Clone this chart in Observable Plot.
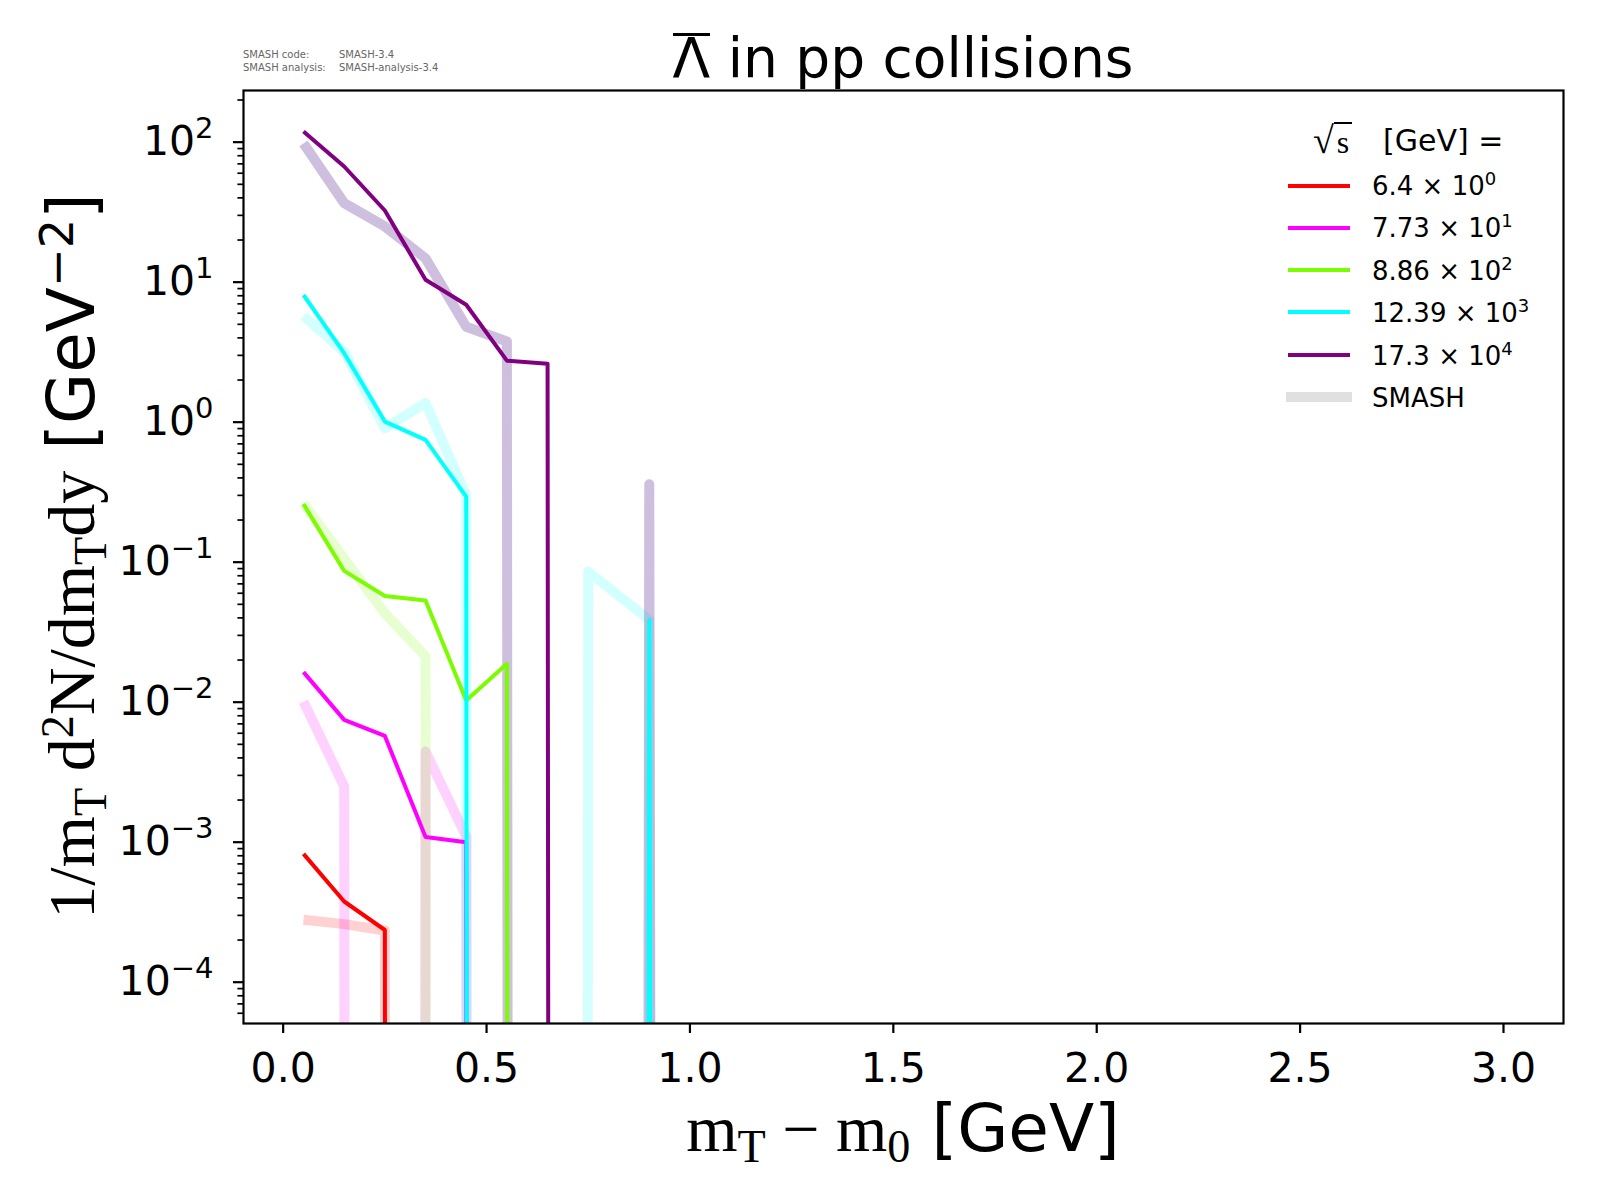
<!DOCTYPE html>
<html>
<head>
<meta charset="utf-8">
<script src="https://cdn.jsdelivr.net/npm/d3@7"></script>
<script src="https://cdn.jsdelivr.net/npm/@observablehq/plot@0.6"></script>
<style>
  html, body { margin: 0; padding: 0; background: white; }
  #wrap { position: relative; width: 1600px; height: 1200px; font-family: "DejaVu Sans", sans-serif; color: black; }
  .abs { position: absolute; white-space: nowrap; line-height: 1; }
  .serif { font-family: "Liberation Serif", serif; }
  .sw { position: absolute; left: 1288px; width: 62px; }
</style>
</head>
<body>
<div id="wrap"></div>
<script>
// ---- data ----
const mT = [0.05, 0.15, 0.25, 0.35, 0.45, 0.55, 0.65, 0.75, 0.9, 1.1];
const energyLabels = ["6.4", "7.73", "8.86", "12.39", "17.3"];
const offsetPowers = [0, 1, 2, 3, 4];
const seriesColors = ["#ff0000", "#ff00ff", "#7cfc00", "#00ffff", "#800080"];
const smashColors = ["#ff0000", "#ff00ff", "#7cfc00", "#00ffff", "#6a3d9a"];
const smashOpacity = [0.18, 0.18, 0.18, 0.17, 0.33];

// measured spectra (scaled by 10^i), 0 = empty bin
const expRed     = [8.25e-4, 3.77e-4, 2.36e-4, 0, 0, 0, 0, 0, 0, 0];
const expMagenta = [0.0164, 0.00748, 0.00574, 0.00109, 0.00100, 0, 0, 0, 0, 0];
const expGreen   = [0.26, 0.0867, 0.0574, 0.0532, 0.0103, 0.0188, 0, 0, 0, 0];
const expCyan    = [8.1, 3.11, 1.01, 0.748, 0.294, 0, 0, 0, 0.0387, 0];
const expPurple  = [119, 67, 32.5, 10.4, 6.9, 2.75, 2.61, 0, 0, 0];

// SMASH spectra
const smashRed     = [2.79e-4, 2.6e-4, 2.34e-4, 0, 0, 0, 0, 0, 0, 0];
const smashMagenta = [0.0101, 0.0025, 0, 0.00444, 0.0011, 0, 0, 0, 0, 0];
const smashGreen   = [0.264, 0.106, 0.0432, 0.0212, 0, 0, 0, 0, 0, 0];
const smashCyan    = [5.74, 3.19, 0.906, 1.37, 0.30, 0, 0, 0.0857, 0.0387, 0];
const smashPurple  = [98, 36.7, 25, 14.8, 4.8, 3.77, 0, 0, 0.36, 0];

const xTicks = [0, 0.5, 1.0, 1.5, 2.0, 2.5, 3.0];
const yMajorTicks = [1e-4, 1e-3, 1e-2, 1e-1, 1e0, 1e1, 1e2];
const yDomain = [Math.pow(10, -4.295), Math.pow(10, 2.369)];

// ---- build tables ----
const expSeries = [expRed, expMagenta, expGreen, expCyan, expPurple];
const smashSeries = [smashRed, smashMagenta, smashGreen, smashCyan, smashPurple];
const toRows = vals => vals.map((v, j) => ({x: mT[j], v}));
// like matplotlib's log clipping: empty bins drop far below the frame
const yAcc = d => (d.v > 0 ? d.v : 1e-300);

const yMinorTicks = [];
for (let k = -5; k <= 2; k++) for (let m = 2; m <= 9; m++) {
  const t = m * Math.pow(10, k);
  if (t >= yDomain[0] && t <= yDomain[1]) yMinorTicks.push(t);
}

const marks = [];
smashSeries.forEach((vals, i) => {
  marks.push(Plot.line(toRows(vals), {
    x: "x", y: yAcc, stroke: smashColors[i], strokeOpacity: smashOpacity[i], strokeWidth: 10,
    strokeLinejoin: "round", strokeLinecap: "butt", clip: true
  }));
});
expSeries.forEach((vals, i) => {
  marks.push(Plot.line(toRows(vals), {
    x: "x", y: yAcc, stroke: seriesColors[i], strokeWidth: 4,
    strokeLinejoin: "round", strokeLinecap: "butt", clip: true
  }));
});

const chart = Plot.plot({
  width: 1600,
  height: 1200,
  marginLeft: 243,
  marginRight: 37,
  marginTop: 90,
  marginBottom: 177,
  style: {fontFamily: "DejaVu Sans", fontSize: "41px", color: "black", background: "white"},
  x: {domain: [-0.0975, 3.1475]},
  y: {type: "log", domain: yDomain},
  marks: [
    ...marks,
    Plot.axisX({ticks: xTicks, tickFormat: d3.format(".1f"), tickSize: 10, tickPadding: 19,
      strokeWidth: 2.2, fontSize: 41, label: null}),
    Plot.axisY({ticks: yMajorTicks, tickFormat: d => "10^" + Math.round(Math.log10(d)),
      tickSize: 10, tickPadding: 20, strokeWidth: 2.2, fontSize: 41, label: null}),
    Plot.axisY({ticks: yMinorTicks, tickFormat: () => "", tickSize: 5.6, strokeWidth: 1.7, label: null}),
    Plot.frame({stroke: "black", strokeWidth: 2.2})
  ]
});

// rich superscripts for the log tick labels
chart.querySelectorAll("text").forEach(t => {
  const m = /^10\^(-?\d+)$/.exec(t.textContent);
  if (!m) return;
  t.textContent = "10";
  const ts = document.createElementNS("http://www.w3.org/2000/svg", "tspan");
  ts.setAttribute("dy", "-17");
  ts.setAttribute("font-size", "29");
  ts.textContent = m[1].replace("-", "\u2212");
  t.appendChild(ts);
});

const wrap = document.getElementById("wrap");
chart.style.position = "absolute";
chart.style.left = "0px";
chart.style.top = "0px";
wrap.appendChild(chart);

function addDiv(html, css) {
  const d = document.createElement("div");
  d.className = "abs";
  d.innerHTML = html;
  Object.assign(d.style, css);
  wrap.appendChild(d);
  return d;
}

// title
addDiv('<span style="display:inline-block;border-top:3px solid black;line-height:0.78;padding-top:1px">\u039B</span> in pp collisions',
  {left: "243px", width: "1320px", textAlign: "center",
  top: (78 - 0.846 * 55) + "px", fontSize: "55px"});

// SMASH version text
addDiv('<div style="display:grid;grid-template-columns:96px auto;row-gap:2px">' +
  '<span>SMASH code:</span><span>SMASH-3.4</span>' +
  '<span>SMASH analysis:</span><span>SMASH-analysis-3.4</span></div>',
  {left: "243px", top: "49px", fontSize: "10px", color: "#666", lineHeight: "11px"});

// y label
addDiv('<span class="serif">1/m<sub style="font-size:0.7em;vertical-align:-0.25em">T</sub> d<sup style="font-size:0.7em;vertical-align:0.45em">2</sup>N/dm<sub style="font-size:0.7em;vertical-align:-0.25em">T</sub>dy</span> [GeV<sup style="font-size:0.7em;vertical-align:0.45em">\u22122</sup>]',
  {left: "74px", top: "556px", fontSize: "66px", transform: "translate(-50%,-50%) rotate(-90deg)"});

// x label
addDiv('<span class="serif">m<sub style="font-size:0.7em;vertical-align:-0.25em">T</sub> \u2212 m<sub style="font-size:0.7em;vertical-align:-0.25em">0</sub></span> [GeV]',
  {left: "903px", top: "1133px", fontSize: "66px", transform: "translate(-50%,-50%)"});

// legend
addDiv('<span class="serif" style="font-size:38px">\u221A<span style="border-top:2px solid black;padding:0 3px;font-size:32px">s</span></span>',
  {left: "1313px", top: (153 - 0.846 * 38) + "px"});
addDiv('[GeV] =', {left: "1383px", top: (151 - 0.846 * 30) + "px", fontSize: "30px"});

const rowCenters = [185.7, 227.7, 270, 312.3, 355, 397.3];
energyLabels.forEach((lab, i) => {
  const c = rowCenters[i];
  const sw = document.createElement("div");
  sw.className = "sw";
  Object.assign(sw.style, {top: (c - 2) + "px", height: "4px", background: seriesColors[i]});
  wrap.appendChild(sw);
  addDiv(lab + ' \u00D7 10<span style="font-size:18px;position:relative;top:-10px">' + offsetPowers[i] + '</span>',
    {left: "1372px", top: (c + 9.5 - 0.846 * 26) + "px", fontSize: "26px"});
});
{
  const c = rowCenters[5];
  const sw = document.createElement("div");
  sw.className = "sw";
  Object.assign(sw.style, {top: (c - 5) + "px", height: "10px", background: "#e0e0e0", left: "1286px", width: "66px"});
  wrap.appendChild(sw);
  addDiv("SMASH", {left: "1372px", top: (c + 9.5 - 0.846 * 26) + "px", fontSize: "26px"});
}
</script>
</body>
</html>
